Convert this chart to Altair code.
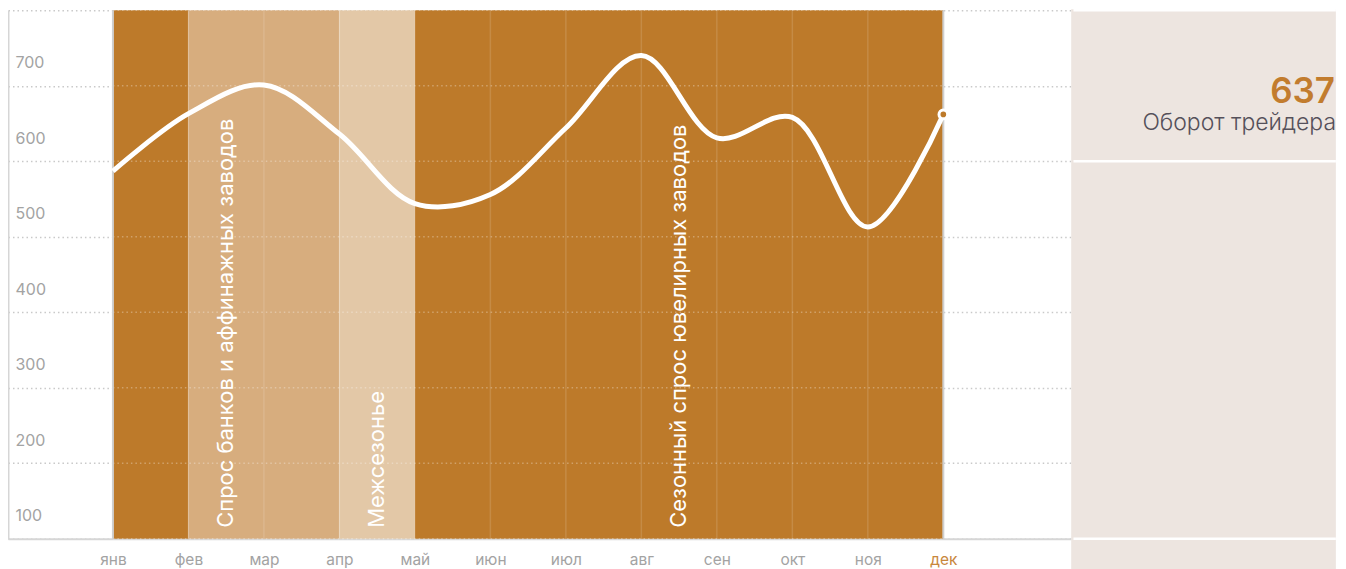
import json
import altair as alt
import pandas as pd

# ---------------- data ----------------
months = ["янв", "фев", "мар", "апр", "май", "июн", "июл", "авг", "сен", "окт", "ноя", "дек"]
month_idx = list(range(1, 13))
turnover = [587, 663, 701, 636, 544, 556, 644, 740, 631, 658, 513, 662]

band_start = [1, 2, 4, 5]
band_end = [2, 4, 5, 12]
band_kind = ["season", "banks", "off", "season2"]

label_texts = ["Спрос банков и аффинажных заводов", "Межсезонье", "Сезонный спрос ювелирных заводов"]
label_pos = [2.5, 4.5, 8.5]

y_ticks = [100, 200, 300, 400, 500, 600, 700, 800]
panel_lines = [800, 600, 100]
kpi_value = ["637"]
kpi_label = ["Оборот трейдера"]

# ---------------- styling ----------------
W, H = 1064, 529
X_MIN, X_MAX = -0.39, 13.694
PANEL_END = 17.2
FONT = "Inter"
DARK = "#BD7A2A"
C_BANKS = "#D7AD7E"
C_OFF = "#E3C8A7"
PANEL = "#EDE5E0"
GRAY_TXT = "#a3a3a3"
AXIS_LINE = "#d6d6d6"

xscale = alt.Scale(domain=[X_MIN, X_MAX], nice=False, zero=False)
yscale = alt.Scale(domain=[100, 800], nice=False, zero=False)

line_df = pd.DataFrame({"m": month_idx, "name": months, "v": turnover})
band_df = pd.DataFrame({"s": band_start, "e": band_end, "k": band_kind})
lab_df = pd.DataFrame({"x": label_pos, "t": label_texts})
tick_df = pd.DataFrame({"v": y_ticks})
pl_df = pd.DataFrame({"v": panel_lines})
inner_df = pd.DataFrame({"m": month_idx[1:-1]})
edge_df = pd.DataFrame({"m": [month_idx[0], month_idx[-1]]})
last_df = line_df.tail(1)
one = pd.DataFrame({"a": [0]})

label_expr = json.dumps(months, ensure_ascii=False) + "[datum.value - 1]"

x_axis = alt.Axis(
    values=month_idx, labelExpr=label_expr, ticks=False, grid=False,
    domainColor=AXIS_LINE, domainWidth=2, labelFont=FONT, labelFontSize=15.5,
    labelColor=alt.condition("datum.value == 12", alt.value("#C8873C"), alt.value(GRAY_TXT)),
    labelPadding=14, title=None,
)
y_axis = alt.Axis(
    values=y_ticks, ticks=False, grid=True, gridColor="#c9c9c9",
    gridDash=[1.5, 3], gridWidth=1.5, domainColor=AXIS_LINE, domainWidth=2,
    labelFont=FONT, labelFontSize=16, labelColor=GRAY_TXT, labelAlign="left",
    labelPadding=-7, labelOffset=-23, labelBaseline="middle",
    labelExpr="datum.value == 800 ? '' : datum.label", title=None,
)


def X(field=None, **kw):
    if field is None:
        return alt.X(scale=xscale, title=None, **kw)
    return alt.X(field, scale=xscale, title=None, **kw)


def Y(field=None, **kw):
    if field is None:
        return alt.Y(scale=yscale, title=None, **kw)
    return alt.Y(field, scale=yscale, title=None, **kw)


line = alt.Chart(line_df).mark_line(color="white", strokeWidth=5, interpolate="catmull-rom").encode(
    x=X("m:Q", axis=x_axis),
    y=Y("v:Q", axis=y_axis),
)

panel = alt.Chart(one).mark_rect(color=PANEL, clip=False).encode(
    x=X(datum=X_MAX, type="quantitative"),
    x2=alt.X2(datum=PANEL_END),
    y=alt.value(-1),
    y2=alt.value(H + 45),
)

panel_rules = alt.Chart(pl_df).mark_rule(color="white", strokeWidth=2.5, clip=False).encode(
    x=X(datum=X_MAX + 0.03, type="quantitative"),
    x2=alt.X2(datum=PANEL_END),
    y=Y("v:Q"),
)

bands = alt.Chart(band_df).mark_rect().encode(
    x=X("s:Q"),
    x2="e:Q",
    y=Y(datum=800, type="quantitative"),
    y2=alt.Y2(datum=100),
    color=alt.Color(
        "k:N",
        scale=alt.Scale(domain=["season", "banks", "off", "season2"], range=[DARK, C_BANKS, C_OFF, DARK]),
        legend=None,
    ),
)

inner_rules = alt.Chart(inner_df).mark_rule(color="white", opacity=0.13, strokeWidth=1.5).encode(
    x=X("m:Q"),
    y=alt.value(0),
    y2=alt.value(H),
)

edge_rules = alt.Chart(edge_df).mark_rule(color="#cfcfcf", strokeWidth=2).encode(
    x=X("m:Q"),
    y=alt.value(0),
    y2=alt.value(H),
)

band_grid = alt.Chart(tick_df).mark_rule(color="white", opacity=0.3, strokeDash=[1.5, 3], strokeWidth=1.5).encode(
    x=X(datum=1, type="quantitative"),
    x2=alt.X2(datum=12),
    y=Y("v:Q"),
)

band_labels = alt.Chart(lab_df).mark_text(
    angle=270, align="left", baseline="middle", color="white", font=FONT, fontSize=22,
).encode(
    x=X("x:Q"),
    y=alt.value(H - 11),
    text="t:N",
)

end_pt = alt.Chart(last_df).mark_point(filled=True, fill=DARK, stroke="white", strokeWidth=3, size=75, opacity=1).encode(
    x=X("m:Q"),
    y=Y("v:Q"),
)

kpi_num = alt.Chart(pd.DataFrame({"t": kpi_value})).mark_text(
    align="right", baseline="alphabetic", color="#C27C2E", font=FONT, fontSize=35, fontWeight=600,
).encode(x=alt.value(W + 264), y=alt.value(93), text="t:N")

kpi_txt = alt.Chart(pd.DataFrame({"t": kpi_label})).mark_text(
    align="right", baseline="alphabetic", color="#55505A", font=FONT, fontSize=23, fontWeight=300,
).encode(x=alt.value(W + 265), y=alt.value(120), text="t:N")

chart = alt.layer(
    line, bands, panel, panel_rules, inner_rules, band_grid, edge_rules, band_labels, line, end_pt, kpi_num, kpi_txt
).properties(width=W, height=H, padding=0).configure_view(stroke=None)

chart.save("out.html", embed_options={"renderer": "svg", "actions": False})
